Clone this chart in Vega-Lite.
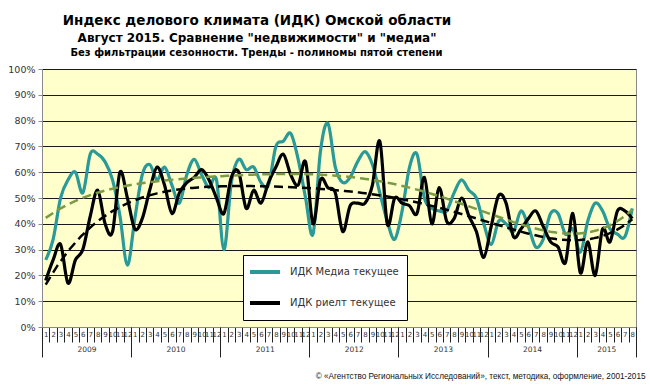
{
  "$schema": "https://vega.github.io/schema/vega-lite/v6.json",
  "width": 594,
  "height": 258,
  "autosize": "none",
  "padding": {"left": 42, "top": 69, "right": 14, "bottom": 59},
  "background": "white",
  "config": {
    "view": {"fill": "#FFFFCC", "stroke": "#8a8a8a", "strokeWidth": 1},
    "font": "DejaVu Sans"
  },
  "title": {
    "text": "Индекс делового климата (ИДК) Омской области",
    "subtitle": "Август 2015. Сравнение \"недвижимости\"  и \"медиа\"",
    "anchor": "middle",
    "frame": "group",
    "dx": -82,
    "offset": 3,
    "font": "DejaVu Sans",
    "fontSize": 13.5,
    "fontWeight": "bold",
    "color": "black",
    "subtitleFont": "DejaVu Sans",
    "subtitleFontSize": 12,
    "subtitleFontWeight": "bold",
    "subtitleColor": "black",
    "subtitlePadding": 6
  },
  "data": {
    "values": [
      {"t": 1, "media": 26, "rielt": 18}, {"t": 2, "media": 34, "rielt": 26}, {"t": 3, "media": 50, "rielt": 32}, {"t": 4, "media": 57, "rielt": 17},
      {"t": 5, "media": 60, "rielt": 26}, {"t": 6, "media": 52, "rielt": 30}, {"t": 7, "media": 67, "rielt": 43}, {"t": 8, "media": 67, "rielt": 53},
      {"t": 9, "media": 64, "rielt": 40}, {"t": 10, "media": 57, "rielt": 37}, {"t": 11, "media": 43, "rielt": 60}, {"t": 12, "media": 24, "rielt": 50},
      {"t": 13, "media": 42, "rielt": 38}, {"t": 14, "media": 59, "rielt": 42}, {"t": 15, "media": 63, "rielt": 53}, {"t": 16, "media": 57, "rielt": 62},
      {"t": 17, "media": 62, "rielt": 55}, {"t": 18, "media": 55, "rielt": 44}, {"t": 19, "media": 48, "rielt": 52}, {"t": 20, "media": 59, "rielt": 56},
      {"t": 21, "media": 65, "rielt": 58}, {"t": 22, "media": 59, "rielt": 61}, {"t": 23, "media": 54, "rielt": 57}, {"t": 24, "media": 57, "rielt": 50},
      {"t": 25, "media": 30, "rielt": 44}, {"t": 26, "media": 56, "rielt": 58}, {"t": 27, "media": 65, "rielt": 60}, {"t": 28, "media": 61, "rielt": 46},
      {"t": 29, "media": 62, "rielt": 53}, {"t": 30, "media": 56, "rielt": 48}, {"t": 31, "media": 55, "rielt": 56}, {"t": 32, "media": 70, "rielt": 62},
      {"t": 33, "media": 72, "rielt": 67}, {"t": 34, "media": 75, "rielt": 59}, {"t": 35, "media": 65, "rielt": 55}, {"t": 36, "media": 50, "rielt": 64},
      {"t": 37, "media": 36, "rielt": 40}, {"t": 38, "media": 68, "rielt": 57}, {"t": 39, "media": 79, "rielt": 54}, {"t": 40, "media": 62, "rielt": 52},
      {"t": 41, "media": 56, "rielt": 37}, {"t": 42, "media": 58, "rielt": 47}, {"t": 43, "media": 64, "rielt": 48}, {"t": 44, "media": 68, "rielt": 48},
      {"t": 45, "media": 63, "rielt": 55}, {"t": 46, "media": 52, "rielt": 72}, {"t": 47, "media": 41, "rielt": 40}, {"t": 48, "media": 34, "rielt": 50},
      {"t": 49, "media": 45, "rielt": 48}, {"t": 50, "media": 62, "rielt": 47}, {"t": 51, "media": 67, "rielt": 44}, {"t": 52, "media": 50, "rielt": 58},
      {"t": 53, "media": 46, "rielt": 40}, {"t": 54, "media": 45, "rielt": 54}, {"t": 55, "media": 45, "rielt": 41}, {"t": 56, "media": 52, "rielt": 42},
      {"t": 57, "media": 57, "rielt": 50}, {"t": 58, "media": 53, "rielt": 43}, {"t": 59, "media": 50, "rielt": 37}, {"t": 60, "media": 40, "rielt": 27},
      {"t": 61, "media": 32, "rielt": 39}, {"t": 62, "media": 41, "rielt": 51}, {"t": 63, "media": 40, "rielt": 48}, {"t": 64, "media": 37, "rielt": 35},
      {"t": 65, "media": 45, "rielt": 38}, {"t": 66, "media": 39, "rielt": 42}, {"t": 67, "media": 31, "rielt": 45}, {"t": 68, "media": 34, "rielt": 39},
      {"t": 69, "media": 44, "rielt": 33}, {"t": 70, "media": 44, "rielt": 31}, {"t": 71, "media": 36, "rielt": 25}, {"t": 72, "media": 38, "rielt": 44},
      {"t": 73, "media": 29, "rielt": 21}, {"t": 74, "media": 41, "rielt": 33}, {"t": 75, "media": 48, "rielt": 20}, {"t": 76, "media": 45, "rielt": 38},
      {"t": 77, "media": 38, "rielt": 33}, {"t": 78, "media": 36, "rielt": 45}, {"t": 79, "media": 35, "rielt": 45}, {"t": 80, "media": 46, "rielt": 42}
    ]
  },
  "transform": [{"fold": ["media", "rielt"], "as": ["series", "value"]}],
  "layer": [
    {
      "mark": {"type": "line", "interpolate": "cardinal", "strokeWidth": 3.2},
      "encoding": {
        "x": {
          "field": "t", "type": "quantitative",
          "scale": {"domain": [0.5, 80.5], "nice": false, "zero": false},
          "axis": {
            "values": [0.5,1.5,2.5,3.5,4.5,5.5,6.5,7.5,8.5,9.5,10.5,11.5,12.5,13.5,14.5,15.5,16.5,17.5,18.5,19.5,20.5,21.5,22.5,23.5,24.5,25.5,26.5,27.5,28.5,29.5,30.5,31.5,32.5,33.5,34.5,35.5,36.5,37.5,38.5,39.5,40.5,41.5,42.5,43.5,44.5,45.5,46.5,47.5,48.5,49.5,50.5,51.5,52.5,53.5,54.5,55.5,56.5,57.5,58.5,59.5,60.5,61.5,62.5,63.5,64.5,65.5,66.5,67.5,68.5,69.5,70.5,71.5,72.5,73.5,74.5,75.5,76.5,77.5,78.5,79.5,80.5],
            "labelExpr": "datum.value > 80 ? '' : '' + (floor(datum.value) % 12 + 1)",
            "labelOffset": 3.7,
            "labelAlign": "center",
            "labelBaseline": "top",
            "labelPadding": -12,
            "labelFontSize": 7,
            "labelColor": "#333333",
            "labelBound": false,
            "labelOverlap": false,
            "labelFlush": false,
            "tickSize": 15,
            "tickColor": "#222222",
            "domainColor": "#8a8a8a",
            "grid": false,
            "title": null,
            "orient": "bottom"
          }
        },
        "y": {
          "field": "value", "type": "quantitative",
          "scale": {"domain": [0, 100], "nice": false},
          "axis": {
            "values": [0, 10, 20, 30, 40, 50, 60, 70, 80, 90, 100],
            "labelExpr": "datum.value + '%'",
            "grid": true,
            "gridColor": "#1a1a1a",
            "gridWidth": 1,
            "tickSize": 4,
            "tickColor": "#8a8a8a",
            "domainColor": "#8a8a8a",
            "labelFontSize": 9.5,
            "labelColor": "#333333",
            "labelPadding": 3,
            "title": "Без фильтрации  сезонности. Тренды  -  полиномы  пятой степени",
            "titleAngle": 0,
            "titleX": 214,
            "titleY": -17,
            "titleAlign": "center",
            "titleBaseline": "middle",
            "titleFontSize": 10,
            "titleFontWeight": "bold",
            "titleColor": "black"
          }
        },
        "color": {
          "field": "series", "type": "nominal",
          "scale": {"domain": ["media", "rielt"], "range": ["#2A9A98", "#000000"]},
          "legend": {
            "orient": "none",
            "legendX": 201,
            "legendY": 186,
            "title": null,
            "fillColor": "white",
            "strokeColor": "black",
            "padding": 5,
            "symbolType": "stroke",
            "symbolSize": 900,
            "symbolStrokeWidth": 4,
            "clipHeight": 24,
            "rowPadding": 7,
            "labelFontSize": 10,
            "labelColor": "#333333",
            "labelOffset": 8,
            "labelLimit": 250,
            "labelExpr": "datum.label == 'media' ? 'ИДК  Медиа текущее' : 'ИДК  риелт текущее'"
          }
        }
      }
    },
    {
      "transform": [{"regression": "value", "on": "t", "groupby": ["series"], "method": "poly", "order": 5, "extent": [1, 80]}],
      "mark": {"type": "line", "strokeWidth": 2.5, "strokeDash": [9, 5]},
      "encoding": {
        "x": {
          "field": "t", "type": "quantitative",
          "scale": {"domain": [0.5, 80.5], "nice": false, "zero": false},
          "axis": {
            "values": [0.5, 12.5, 24.5, 36.5, 48.5, 60.5, 72.5, 80.5],
            "labelExpr": "datum.value > 80 ? '' : '' + (2009 + floor(datum.value / 12))",
            "labelOffset": {"condition": {"test": "datum.value > 72", "value": 29.6}, "value": 44.5},
            "labelAlign": "center",
            "labelBaseline": "top",
            "labelPadding": -12,
            "labelFontSize": 7.5,
            "labelColor": "#333333",
            "labelBound": false,
            "labelOverlap": false,
            "labelFlush": false,
            "tickSize": 30,
            "tickColor": "#222222",
            "domain": false,
            "grid": false,
            "orient": "bottom",
            "title": "© «Агентство Региональных Исследований», текст, методика, оформление, 2001-2015",
            "titleX": 603,
            "titleY": 49,
            "titleAlign": "right",
            "titleBaseline": "middle",
            "titleFont": "Liberation Sans",
            "titleFontSize": 8.2,
            "titleFontWeight": "normal",
            "titleColor": "#111111"
          }
        },
        "y": {"field": "value", "type": "quantitative", "axis": null},
        "color": {
          "field": "series", "type": "nominal",
          "scale": {"domain": ["media", "rielt"], "range": ["#7C9A45", "#000000"]},
          "legend": null
        }
      }
    }
  ],
  "resolve": {"scale": {"color": "independent"}, "axis": {"x": "independent", "y": "independent"}}
}
